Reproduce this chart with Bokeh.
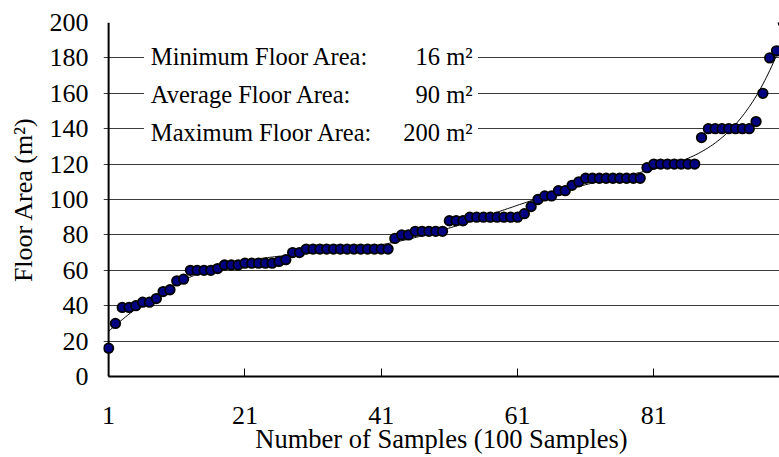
import numpy as np
from bokeh.plotting import figure
from bokeh.models import Range1d, FixedTicker, Span, BoxAnnotation, Label
from bokeh.embed import file_html
from bokeh.resources import INLINE

# ---- data ----
sample_no = list(range(1, 101))
floor_area = [16, 30, 39, 39, 40, 42, 42, 44, 48, 49,
              54, 55, 60, 60, 60, 60, 61, 63, 63, 63,
              64, 64, 64, 64, 64, 65, 66, 70, 70, 72,
              72, 72, 72, 72, 72, 72, 72, 72, 72, 72,
              72, 72, 78, 80, 80, 82, 82, 82, 82, 82,
              88, 88, 88, 90, 90, 90, 90, 90, 90, 90,
              90, 92, 96, 100, 102, 102, 105, 105, 108, 110,
              112, 112, 112, 112, 112, 112, 112, 112, 112, 118,
              120, 120, 120, 120, 120, 120, 120, 135, 140, 140,
              140, 140, 140, 140, 140, 144, 160, 180, 184, 200]
x_ticks = [1, 21, 41, 61, 81]
y_ticks = [0, 20, 40, 60, 80, 100, 120, 140, 160, 180, 200]
stat_names = ["Minimum Floor Area:", "Average Floor Area:", "Maximum Floor Area:"]

stat_values = [min(floor_area), round(sum(floor_area) / len(floor_area)), max(floor_area)]

# polynomial trend line fitted to the data
coef = np.polyfit(sample_no, floor_area, 6)
trend_x = np.linspace(1, 100, 400)
trend_y = np.polyval(coef, trend_x)

FONT = "Liberation Serif"

p = figure(width=779, height=457,
           x_range=Range1d(0.25, 99.44), y_range=Range1d(0, 200),
           output_backend="svg", toolbar_location=None,
           min_border_left=103, min_border_right=0,
           min_border_top=22, min_border_bottom=81)
p.outline_line_color = None
p.background_fill_color = "white"
p.border_fill_color = "white"

# x axis
p.xaxis.ticker = FixedTicker(ticks=x_ticks)
p.xaxis.major_tick_in = 8
p.xaxis.major_tick_out = 0
p.xaxis.major_tick_line_color = "black"
p.xaxis.minor_tick_line_color = None
p.xaxis.axis_line_color = "black"
p.xaxis.axis_line_width = 2
p.xaxis.bounds = (1, 100)
p.xaxis.major_label_text_font = FONT
p.xaxis.major_label_text_font_size = "26px"
p.xaxis.major_label_text_color = "black"
p.xaxis.major_label_standoff = 30
p.xaxis.axis_label = "Number of Samples (100 Samples)"
p.xaxis.axis_label_text_font = FONT
p.xaxis.axis_label_text_font_size = "26.5px"
p.xaxis.axis_label_text_font_style = "normal"
p.xaxis.axis_label_text_color = "black"
p.xaxis.axis_label_standoff = -3

# y axis
p.yaxis.ticker = FixedTicker(ticks=y_ticks)
p.yaxis.major_tick_in = 0
p.yaxis.major_tick_out = 0
p.yaxis.minor_tick_line_color = None
p.yaxis.axis_line_color = None
p.yaxis.major_label_text_font = FONT
p.yaxis.major_label_text_font_size = "26px"
p.yaxis.major_label_text_color = "black"
p.yaxis.major_label_standoff = 15
p.yaxis.axis_label = "Floor Area (m²)"
p.yaxis.axis_label_text_font = FONT
p.yaxis.axis_label_text_font_size = "26px"
p.yaxis.axis_label_text_font_style = "normal"
p.yaxis.axis_label_text_color = "black"
p.yaxis.axis_label_standoff = 9

# grid
p.xgrid.visible = False
p.ygrid.grid_line_color = "#3a3a3a"
p.ygrid.grid_line_width = 1
p.ygrid.bounds = (1, 99.44)

# vertical axis line at sample 1
p.add_layout(Span(location=1, dimension="height", line_color="black",
                  line_width=2, level="underlay"))

# trend line + points
p.line(trend_x, trend_y, line_color="black", line_width=1)
p.scatter(sample_no, floor_area, size=9.5, fill_color="#000080",
          line_color="black", line_width=1.8)

# statistics box
p.add_layout(BoxAnnotation(left=6.2, right=55.2, bottom=130, top=195,
                           fill_color="white", fill_alpha=1.0, line_color=None))
row_y = [181, 159.6, 137.6]
for name, val, yy in zip(stat_names, stat_values, row_y):
    p.add_layout(Label(x=7.2, y=yy, text=name, text_align="left",
                       text_baseline="middle", text_font=FONT,
                       text_font_size="24.5px", text_color="black"))
    p.add_layout(Label(x=54.4, y=yy, text=f"{val} m²", text_align="right",
                       text_baseline="middle", text_font=FONT,
                       text_font_size="24.5px", text_color="black"))

open("out.html", "w").write(file_html(p, INLINE))
